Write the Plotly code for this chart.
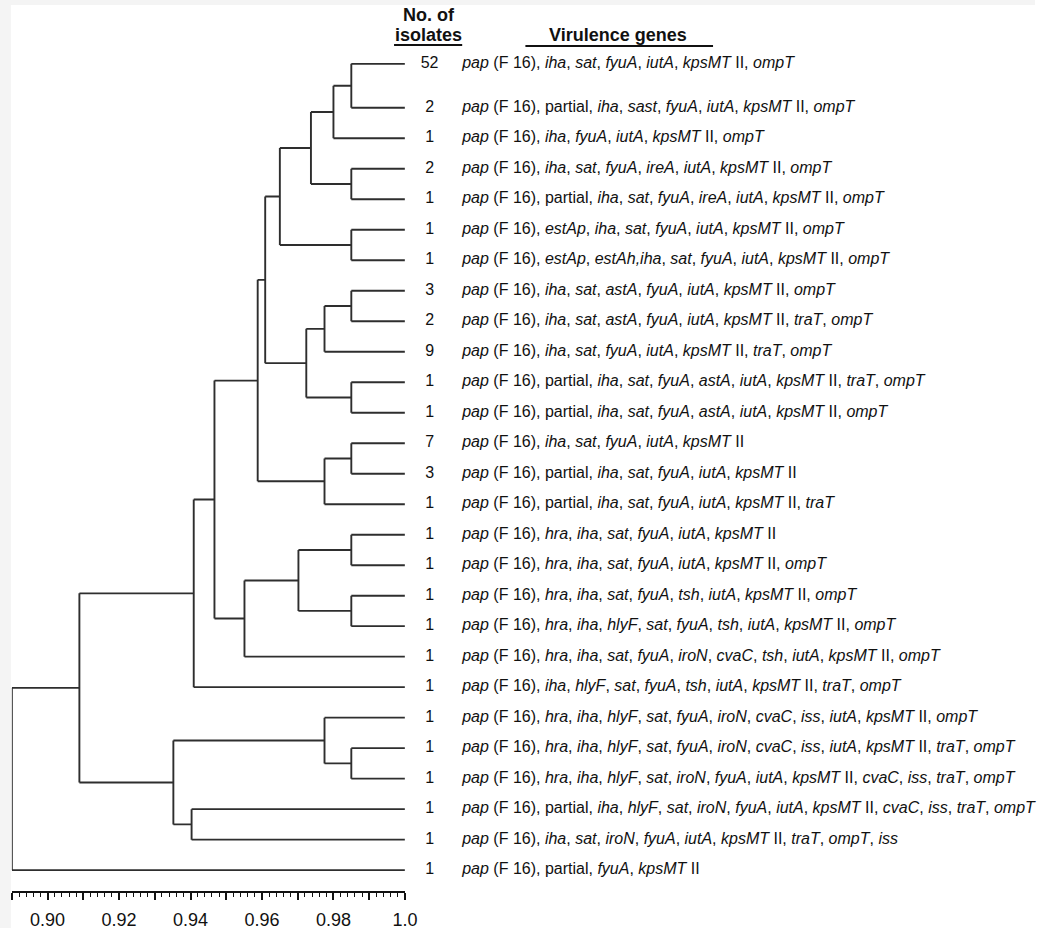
import plotly.graph_objects as go

# ---------------- data ----------------
counts = [52, 2, 1, 2, 1, 1, 1, 3, 2, 9, 1, 1, 7, 3, 1, 1, 1, 1, 1, 1, 1, 1, 1, 1, 1, 1, 1]

genes = [
    "pap (F 16), iha, sat, fyuA, iutA, kpsMT II, ompT",
    "pap (F 16), partial, iha, sast, fyuA, iutA, kpsMT II, ompT",
    "pap (F 16), iha, fyuA, iutA, kpsMT II, ompT",
    "pap (F 16), iha, sat, fyuA, ireA, iutA, kpsMT II, ompT",
    "pap (F 16), partial, iha, sat, fyuA, ireA, iutA, kpsMT II, ompT",
    "pap (F 16), estAp, iha, sat, fyuA, iutA, kpsMT II, ompT",
    "pap (F 16), estAp, estAh,iha, sat, fyuA, iutA, kpsMT II, ompT",
    "pap (F 16), iha, sat, astA, fyuA, iutA, kpsMT II, ompT",
    "pap (F 16), iha, sat, astA, fyuA, iutA, kpsMT II, traT, ompT",
    "pap (F 16), iha, sat, fyuA, iutA, kpsMT II, traT, ompT",
    "pap (F 16), partial, iha, sat, fyuA, astA, iutA, kpsMT II, traT, ompT",
    "pap (F 16), partial, iha, sat, fyuA, astA, iutA, kpsMT II, ompT",
    "pap (F 16), iha, sat, fyuA, iutA, kpsMT II",
    "pap (F 16), partial, iha, sat, fyuA, iutA, kpsMT II",
    "pap (F 16), partial, iha, sat, fyuA, iutA, kpsMT II, traT",
    "pap (F 16), hra, iha, sat, fyuA, iutA, kpsMT II",
    "pap (F 16), hra, iha, sat, fyuA, iutA, kpsMT II, ompT",
    "pap (F 16), hra, iha, sat, fyuA, tsh, iutA, kpsMT II, ompT",
    "pap (F 16), hra, iha, hlyF, sat, fyuA, tsh, iutA, kpsMT II, ompT",
    "pap (F 16), hra, iha, sat, fyuA, iroN, cvaC, tsh, iutA, kpsMT II, ompT",
    "pap (F 16), iha, hlyF, sat, fyuA, tsh, iutA, kpsMT II, traT, ompT",
    "pap (F 16), hra, iha, hlyF, sat, fyuA, iroN, cvaC, iss, iutA, kpsMT II, ompT",
    "pap (F 16), hra, iha, hlyF, sat, fyuA, iroN, cvaC, iss, iutA, kpsMT II, traT, ompT",
    "pap (F 16), hra, iha, hlyF, sat, iroN, fyuA, iutA, kpsMT II, cvaC, iss, traT, ompT",
    "pap (F 16), partial, iha, hlyF, sat, iroN, fyuA, iutA, kpsMT II, cvaC, iss, traT, ompT",
    "pap (F 16), iha, sat, iroN, fyuA, iutA, kpsMT II, traT, ompT, iss",
    "pap (F 16), partial, fyuA, kpsMT II",
]

# leaf order positions (rows); the first leaf sits a little higher
leaf_row = [-0.44] + list(range(1, 27))

# merges: (child a, child b, similarity); leaves 0..26, internal nodes 27..
merges = [
    (0, 1, 0.985),    # 27
    (27, 2, 0.980),   # 28
    (3, 4, 0.985),    # 29
    (28, 29, 0.9737), # 30
    (5, 6, 0.985),    # 31
    (30, 31, 0.965),  # 32
    (7, 8, 0.985),    # 33
    (33, 9, 0.9775),  # 34
    (10, 11, 0.985),  # 35
    (34, 35, 0.9724), # 36
    (32, 36, 0.9609), # 37
    (12, 13, 0.985),  # 38
    (38, 14, 0.9775), # 39
    (37, 39, 0.9588), # 40
    (15, 16, 0.985),  # 41
    (17, 18, 0.985),  # 42
    (41, 42, 0.9702), # 43
    (43, 19, 0.9551), # 44
    (40, 44, 0.9467), # 45
    (45, 20, 0.9409), # 46
    (22, 23, 0.985),  # 47
    (21, 47, 0.9775), # 48
    (24, 25, 0.9403), # 49
    (48, 49, 0.9352), # 50
    (46, 50, 0.9089), # 51
    (51, 26, 0.890),  # 52
]

axis_ticks = [0.89, 0.90, 0.91, 0.92, 0.93, 0.94, 0.95, 0.96, 0.97, 0.98, 0.99, 1.00]
axis_labels = ["", "0.90", "", "0.92", "", "0.94", "", "0.96", "", "0.98", "", "1.0"]

# ---------------- build ----------------
FONT = "Liberation Sans"
INK = "#111111"
W, H = 1048, 930

node_x = [1.0] * len(leaf_row)
node_y = list(leaf_row)
lx, ly = [], []
for a, b, h in merges:
    for c in (a, b):
        lx += [node_x[c], h, None]
        ly += [node_y[c], node_y[c], None]
    lx += [h, h, None]
    ly += [node_y[a], node_y[b], None]
    node_x.append(h)
    node_y.append((node_y[a] + node_y[b]) / 2)


def markup(s):
    out = []
    for item in s.split(", "):
        if item == "partial":
            out.append(item)
        elif item.startswith("pap (F 16)"):
            out.append("<i>pap</i> (F 16)")
        elif item.endswith(" II"):
            out.append("<i>" + item[:-3] + "</i> II")
        else:
            out.append("<i>" + item + "</i>")
    return ", ".join(out)


fig = go.Figure()
fig.add_trace(go.Scatter(
    x=lx, y=ly, mode="lines",
    line=dict(color="#2e2e2e", width=1.9),
    hoverinfo="skip", showlegend=False,
))

fig.add_trace(go.Scatter(
    x=[435] * len(counts), y=leaf_row, xaxis="x2", yaxis="y",
    mode="text", text=[str(c) for c in counts], textposition="middle center",
    textfont=dict(family=FONT, size=16, color=INK),
    hoverinfo="skip", showlegend=False, cliponaxis=False,
))
fig.add_trace(go.Scatter(
    x=[468] * len(genes), y=leaf_row, xaxis="x2", yaxis="y",
    mode="text", text=[markup(g) for g in genes], textposition="middle right",
    textfont=dict(family=FONT, size=16, color=INK),
    hoverinfo="skip", showlegend=False, cliponaxis=False,
))

# pixel mapping for y: leaf row 1 -> 108 px, 30.56 px per row, axis line at 893 px
ppr = 30.56
y_top = 1 - 108 / ppr
y_bot = 1 + (893 - 108) / ppr

fig.update_layout(
    width=W, height=H,
    margin=dict(l=0, r=0, t=0, b=0),
    paper_bgcolor="white", plot_bgcolor="rgba(0,0,0,0)",
    font=dict(family=FONT, color=INK),
    xaxis=dict(
        domain=[12 / W, 410 / W], range=[0.89, 1.0],
        showgrid=False, zeroline=False,
        showline=True, linecolor=INK, linewidth=2,
        tickmode="array", tickvals=axis_ticks, ticktext=axis_labels,
        ticks="outside", ticklen=7, tickwidth=1.6, tickcolor=INK,
        ticklabelstandoff=4,
        tickfont=dict(family=FONT, size=18, color=INK),
        minor=dict(dtick=0.002, tick0=0.89, ticks="outside", ticklen=4,
                   tickwidth=1.3, tickcolor=INK, showgrid=False),
        fixedrange=True,
    ),
    xaxis2=dict(
        domain=[0, 1], range=[0, W], anchor="y", visible=False,
        showgrid=False, zeroline=False, fixedrange=True,
    ),
    yaxis=dict(
        domain=[(H - 893) / H, 1], range=[y_bot, y_top],
        visible=False, showgrid=False, zeroline=False, fixedrange=True,
    ),
    annotations=[
        dict(xref="x2", yref="paper", x=434, y=1 - 15 / H, xanchor="center", yanchor="middle",
             text="<b>No. of</b>", showarrow=False,
             font=dict(family=FONT, size=18, color=INK)),
        dict(xref="x2", yref="paper", x=434, y=1 - 35 / H, xanchor="center", yanchor="middle",
             text="<b>isolates</b>", showarrow=False,
             font=dict(family=FONT, size=18, color=INK)),
        dict(xref="x2", yref="paper", x=626, y=1 - 35 / H, xanchor="center", yanchor="middle",
             text="<b>Virulence genes</b>", showarrow=False,
             font=dict(family=FONT, size=18, color=INK)),
    ],
    shapes=[
        dict(type="rect", xref="paper", yref="paper", x0=0, x1=11 / W, y0=0, y1=1,
             fillcolor="#f4f4f4", line=dict(width=0), layer="below"),
        dict(type="rect", xref="paper", yref="paper", x0=0, x1=1, y0=1 - 5 / H, y1=1,
             fillcolor="#f4f4f4", line=dict(width=0), layer="below"),
        dict(type="line", xref="x2", yref="paper", x0=399, x1=468,
             y0=1 - 45 / H, y1=1 - 45 / H, line=dict(color=INK, width=2)),
        dict(type="line", xref="x2", yref="paper", x0=532, x1=722,
             y0=1 - 46 / H, y1=1 - 46 / H, line=dict(color=INK, width=2)),
    ],
)

fig.write_html("out.html", config={"displayModeBar": False},
               post_script="document.body.style.margin='0';")
